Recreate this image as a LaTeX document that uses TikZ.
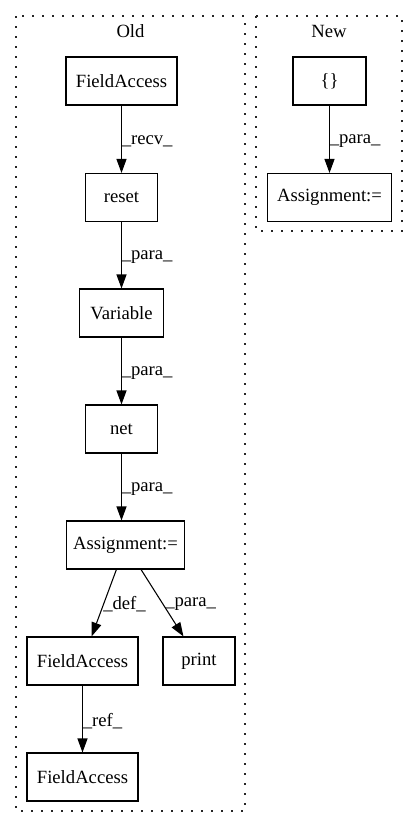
\documentclass[tikz,border=0pt]{standalone}
\usepackage{fontspec}
\setmainfont{Liberation Serif}
\usetikzlibrary{arrows.meta}
\begin{document}
\begin{tikzpicture}[x=0.75pt,y=-0.75pt,
  box/.style={draw,line width=0.8pt,minimum height=36pt,inner sep=0pt,font=\fontsize{14}{16}\selectfont},
  edge/.style={line width=0.8pt,-{Triangle[length=10.5pt,width=7.5pt]}},
  elabel/.style={anchor=west,inner sep=0pt,font=\fontsize{14}{16}\selectfont},
  ctitle/.style={inner sep=0pt,font=\fontsize{14}{16}\selectfont},
  cluster/.style={line width=1pt,dash pattern=on 1.2pt off 6.3pt,draw=black!85}
]
\useasboundingbox (0,0) rectangle (419,828);
% clusters
\draw[cluster] (16,16) rectangle (245,811);
\draw[cluster] (256,16) rectangle (402,231);
\node[ctitle] (oldt) at (130.5,31) {Old};
\node[ctitle] (newt) at (329,31) {New};
% Old nodes
\node[box,minimum width=83.25pt] (fa1) at (121.5,81) {FieldAccess};
\node[box,minimum width=54pt] (reset) at (121.5,197.5) {reset};
\node[box,minimum width=63pt] (var) at (121.5,313) {Variable};
\node[box,minimum width=54pt] (net) at (121.5,429) {net};
\node[box,minimum width=88pt] (asg) at (125.5,545) {Assignment:=};
\node[box,minimum width=83.25pt] (fa2) at (82.5,661) {FieldAccess};
\node[box,minimum width=54pt] (print) at (199,661) {print};
\node[box,minimum width=83.25pt] (fa3) at (82.5,777) {FieldAccess};
% New nodes
\node[box,minimum width=54.75pt] (br) at (329.5,81) {\{\}};
\node[box,minimum width=93pt] (asgn) at (329.5,197.5) {Assignment:=};
% edges
\draw[edge] (fa1) -- (reset);
\draw[edge] (reset) -- (var);
\draw[edge] (var) -- (net);
\draw[edge] (net) -- (net |- asg.north);
\draw[edge] (asg) -- (fa2);
\draw[edge] (asg) -- (print);
\draw[edge] (fa2) -- (fa3);
\draw[edge] (br) -- (asgn);
% edge labels
\node[elabel] (l1) at (121.5,141) {\_recv\_};
\node[elabel] (l2) at (121.5,257) {\_para\_};
\node[elabel] (l3) at (121.5,373) {\_para\_};
\node[elabel] (l4) at (121.5,489) {\_para\_};
\node[elabel] (l5) at (103,604) {\_def\_};
\node[elabel] (l6) at (165,604) {\_para\_};
\node[elabel] (l7) at (82.5,721) {\_ref\_};
\node[elabel] (l8) at (329.5,141) {\_para\_};
\end{tikzpicture}
\end{document}
